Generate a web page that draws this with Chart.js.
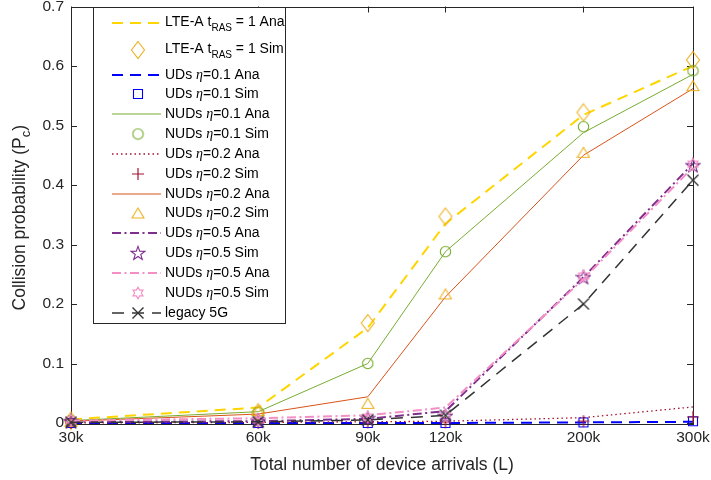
<!DOCTYPE html>
<html><head><meta charset="utf-8">
<script src="https://cdn.jsdelivr.net/npm/chart.js@4"></script>
<style>html,body{margin:0;padding:0;background:#fff}canvas{display:block}</style>
</head><body>
<canvas id="c" width="711" height="480"></canvas>
<script>
// ---------- data ----------
const xValues = [30000, 60000, 90000, 120000, 200000, 300000];
const xTickLabels = ['30k', '60k', '90k', '120k', '200k', '300k'];
const yTicks = [0, 0.1, 0.2, 0.3, 0.4, 0.5, 0.6, 0.7];
const yTickLabels = ['0', '0.1', '0.2', '0.3', '0.4', '0.5', '0.6', '0.7'];

const lteAna    = [0.006, 0.026, 0.160, 0.335, 0.518, 0.600];
const lteSim    = [0.004, 0.018, 0.168, 0.347, 0.522, 0.610];
const ud01Ana   = [0.000, 0.000, 0.000, 0.000, 0.001, 0.002];
const ud01Sim   = [0.000, 0.000, 0.000, 0.000, 0.001, 0.003];
const nud01Ana  = [0.004, 0.019, 0.100, 0.288, 0.488, 0.586];
const nud01Sim  = [0.004, 0.018, 0.100, 0.288, 0.498, 0.592];
const ud02Ana   = [0.000, 0.001, 0.002, 0.003, 0.009, 0.027];
const ud02Sim   = [0.000, 0.000, 0.001, 0.001, 0.003, 0.010];
const nud02Ana  = [0.003, 0.015, 0.044, 0.212, 0.450, 0.562];
const nud02Sim  = [0.003, 0.021, 0.033, 0.217, 0.455, 0.567];
const ud05Ana   = [0.002, 0.003, 0.007, 0.020, 0.245, 0.436];
const ud05Sim   = [0.003, 0.004, 0.008, 0.012, 0.245, 0.433];
const nud05Ana  = [0.004, 0.008, 0.013, 0.026, 0.242, 0.430];
const nud05Sim  = [0.005, 0.005, 0.010, 0.013, 0.247, 0.435];
const legacy5G  = [0.001, 0.002, 0.005, 0.013, 0.200, 0.408];

const seriesNames = [
  [{t:'LTE-A t'},{t:'RAS',sub:true},{t:' = 1 Ana'}],
  [{t:'LTE-A t'},{t:'RAS',sub:true},{t:' = 1 Sim'}],
  [{t:'UDs '},{t:'η',it:true},{t:'=0.1 Ana'}],
  [{t:'UDs '},{t:'η',it:true},{t:'=0.1 Sim'}],
  [{t:'NUDs '},{t:'η',it:true},{t:'=0.1 Ana'}],
  [{t:'NUDs '},{t:'η',it:true},{t:'=0.1 Sim'}],
  [{t:'UDs '},{t:'η',it:true},{t:'=0.2 Ana'}],
  [{t:'UDs '},{t:'η',it:true},{t:'=0.2 Sim'}],
  [{t:'NUDs '},{t:'η',it:true},{t:'=0.2 Ana'}],
  [{t:'NUDs '},{t:'η',it:true},{t:'=0.2 Sim'}],
  [{t:'UDs '},{t:'η',it:true},{t:'=0.5 Ana'}],
  [{t:'UDs '},{t:'η',it:true},{t:'=0.5 Sim'}],
  [{t:'NUDs '},{t:'η',it:true},{t:'=0.5 Ana'}],
  [{t:'NUDs '},{t:'η',it:true},{t:'=0.5 Sim'}],
  [{t:'legacy 5G'}]
];

// ---------- marker glyphs ----------
function mk(w, h, color, lw, draw) {
  const c = document.createElement('canvas');
  c.width = w; c.height = h;
  const g = c.getContext('2d');
  g.strokeStyle = color; g.lineWidth = lw; g.lineJoin = 'miter';
  g.beginPath(); draw(g, w, h); g.stroke();
  return c;
}
function starPath(g, cx, cy, n, ro, ri) {
  for (let k = 0; k < 2 * n; k++) {
    const r = k % 2 === 0 ? ro : ri;
    const a = -Math.PI / 2 + k * Math.PI / n;
    const px = cx + r * Math.cos(a), py = cy + r * Math.sin(a);
    k === 0 ? g.moveTo(px, py) : g.lineTo(px, py);
  }
  g.closePath();
}
const M = {
  diamond: mk(16, 20, '#EDB120', 1.1, g => { g.moveTo(8, 1.5); g.lineTo(14.5, 10); g.lineTo(8, 18.5); g.lineTo(1.5, 10); g.closePath(); }),
  square: mk(12, 12, '#0000FF', 1.1, g => { g.rect(1.5, 1.5, 9, 9); }),
  circle: mk(13, 13, '#77AC30', 1.1, g => { g.arc(6.5, 6.5, 5.2, 0, Math.PI * 2); }),
  plus: mk(14, 14, '#A2142F', 1.2, g => { g.moveTo(7, 1); g.lineTo(7, 13); g.moveTo(1, 7); g.lineTo(13, 7); }),
  triangle: mk(14, 13, '#EDB120', 1.1, g => { g.moveTo(7, 1.5); g.lineTo(13, 11.5); g.lineTo(1, 11.5); g.closePath(); }),
  pentagram: mk(16, 16, '#7E2F8E', 1.1, g => { starPath(g, 8, 8.6, 5, 7.2, 2.9); }),
  hexagram: mk(14, 14, '#F48FC6', 1.1, g => { starPath(g, 7, 7, 6, 5.8, 3.35); }),
  cross: mk(14, 14, '#333333', 1.4, g => { g.moveTo(1.5, 1.5); g.lineTo(12.5, 12.5); g.moveTo(12.5, 1.5); g.lineTo(1.5, 12.5); })
};

// ---------- series styling ----------
const defs = [
  {d: lteAna,   line: true, color: '#FFD500', w: 2,   dash: [11, 7]},
  {d: lteSim,   marker: M.diamond},
  {d: ud01Ana,  line: true, color: '#0000FF', w: 2,   dash: [11, 7]},
  {d: ud01Sim,  marker: M.square},
  {d: nud01Ana, line: true, color: '#77AC30', w: 1,   dash: []},
  {d: nud01Sim, marker: M.circle},
  {d: ud02Ana,  line: true, color: '#A2142F', w: 1.3, dash: [1.5, 3]},
  {d: ud02Sim,  marker: M.plus},
  {d: nud02Ana, line: true, color: '#D95319', w: 1,   dash: []},
  {d: nud02Sim, marker: M.triangle},
  {d: ud05Ana,  line: true, color: '#7E2F8E', w: 2,   dash: [9, 3.5, 2, 3.5]},
  {d: ud05Sim,  marker: M.pentagram},
  {d: nud05Ana, line: true, color: '#F48FC6', w: 2,   dash: [9, 3.5, 2, 3.5]},
  {d: nud05Sim, marker: M.hexagram},
  {d: legacy5G, line: true, color: '#333333', w: 1.5, dash: [12, 8], marker: M.cross}
];

const datasets = defs.map((s, i) => ({
  label: 'series' + i,
  data: xValues.map((x, k) => ({x: x, y: s.d[k]})),
  showLine: !!s.line,
  borderColor: s.color || '#000',
  borderWidth: s.w || 1,
  borderDash: s.dash || [],
  backgroundColor: 'transparent',
  pointStyle: s.marker || 'circle',
  pointRadius: s.marker ? 5 : 0,
  pointHoverRadius: s.marker ? 5 : 0,
  tension: 0,
  fill: false,
  clip: false,
  order: 100 - i
}));

// ---------- plugins ----------
const TXT = '#262626';
const boxPlugin = {
  id: 'box',
  beforeDatasetsDraw(chart) {
    const {ctx, chartArea: a, scales} = chart;
    ctx.save();
    ctx.strokeStyle = TXT; ctx.lineWidth = 1;
    ctx.strokeRect(Math.round(a.left) + 0.5, Math.round(a.top) + 0.5, Math.round(a.right - a.left), Math.round(a.bottom - a.top));
    ctx.beginPath();
    const tl = 6;
    scales.x.ticks.forEach(t => {
      const px = Math.round(scales.x.getPixelForValue(t.value)) + 0.5;
      ctx.moveTo(px, a.bottom); ctx.lineTo(px, a.bottom - tl);
      ctx.moveTo(px, a.top); ctx.lineTo(px, a.top + tl);
    });
    scales.y.ticks.forEach(t => {
      const py = Math.round(scales.y.getPixelForValue(t.value)) + 0.5;
      ctx.moveTo(a.left, py); ctx.lineTo(a.left + tl, py);
      ctx.moveTo(a.right, py); ctx.lineTo(a.right - tl, py);
    });
    ctx.stroke();
    ctx.restore();
  }
};

function setFont(ctx, p, size) {
  if (p.sub) ctx.font = Math.round(size * 0.72) + 'px "Liberation Sans", Arial, sans-serif';
  else if (p.it) ctx.font = 'italic ' + size + 'px "Liberation Serif", "DejaVu Serif", serif';
  else ctx.font = size + 'px "Liberation Sans", Arial, sans-serif';
}
function drawParts(ctx, parts, x, y, size, subOff) {
  parts.forEach(p => {
    setFont(ctx, p, size);
    ctx.fillText(p.t, x, p.sub ? y + subOff : y);
    x += ctx.measureText(p.t).width;
  });
  return x;
}
function partsWidth(ctx, parts, size) {
  let w = 0;
  parts.forEach(p => { setFont(ctx, p, size); w += ctx.measureText(p.t).width; });
  return w;
}

const rowY = [23, 50, 75, 94, 114, 134, 154, 174, 194, 213, 233, 253, 273, 293, 313];
const legendPlugin = {
  id: 'mlegend',
  afterDraw(chart) {
    const ctx = chart.ctx;
    ctx.save();
    const bx = 93, by = 7, bw = 192, bh = 316;
    ctx.fillStyle = '#fff'; ctx.fillRect(bx, by, bw, bh);
    ctx.strokeStyle = TXT; ctx.lineWidth = 1;
    ctx.strokeRect(bx + 0.5, by + 0.5, bw, bh);
    defs.forEach((s, i) => {
      const y = rowY[i];
      if (s.line) {
        ctx.strokeStyle = s.color; ctx.lineWidth = s.w; ctx.setLineDash(s.dash);
        ctx.beginPath(); ctx.moveTo(112, y); ctx.lineTo(161, y); ctx.stroke();
        ctx.setLineDash([]);
      }
      if (s.marker) {
        ctx.drawImage(s.marker, 138 - s.marker.width / 2, y - s.marker.height / 2);
      }
      ctx.fillStyle = '#000'; ctx.textBaseline = 'middle'; ctx.textAlign = 'left';
      const ty = (i < 2) ? y - 1 : y;
      drawParts(ctx, seriesNames[i], 165, ty, 14, 6);
    });
    // axis titles
    ctx.fillStyle = TXT; ctx.textBaseline = 'middle'; ctx.textAlign = 'left';
    const a = chart.chartArea;
    const xt = [{t: 'Total number of device arrivals (L)'}];
    const xw = partsWidth(ctx, xt, 17.5);
    drawParts(ctx, xt, (a.left + a.right) / 2 - xw / 2, 465, 17.5, 6);
    const yt = [{t: 'Collision probability (P'}, {t: 'c', sub: true}, {t: ')'}];
    const yw = partsWidth(ctx, yt, 17.5);
    ctx.translate(20, (a.top + a.bottom) / 2 + 3);
    ctx.rotate(-Math.PI / 2);
    drawParts(ctx, yt, -yw / 2, 0, 17.5, 6);
    ctx.restore();
  }
};

function zeroPad(scale) { scale.paddingTop = 0; scale.paddingBottom = 0; scale.paddingLeft = 0; scale.paddingRight = 0; }

new Chart(document.getElementById('c'), {
  type: 'scatter',
  data: {datasets},
  plugins: [boxPlugin, legendPlugin],
  options: {
    responsive: false,
    devicePixelRatio: 1,
    animation: false,
    layout: {padding: {left: 0, top: 3, right: 18, bottom: 0}},
    plugins: {legend: {display: false}, tooltip: {enabled: false}},
    scales: {
      x: {
        type: 'logarithmic', min: 30000, max: 300000,
        grid: {display: false, drawTicks: false},
        border: {display: false},
        afterBuildTicks: s => { s.ticks = xValues.map(v => ({value: v})); },
        afterFit: s => { s.height = 57; zeroPad(s); },
        ticks: {
          autoSkip: false, maxRotation: 0, minRotation: 0, padding: 5,
          color: TXT, font: {family: '"Liberation Sans", Arial, sans-serif', size: 15.5},
          callback: (v, i) => xTickLabels[i]
        }
      },
      y: {
        type: 'linear', min: 0, max: 0.7,
        grid: {display: false, drawTicks: false},
        border: {display: false},
        afterBuildTicks: s => { s.ticks = yTicks.map(v => ({value: v})); },
        afterFit: s => { s.width = 71; zeroPad(s); },
        ticks: {
          autoSkip: false, padding: 7,
          color: TXT, font: {family: '"Liberation Sans", Arial, sans-serif', size: 15.5, lineHeight: 0.1},
          callback: (v, i) => yTickLabels[i]
        }
      }
    }
  }
});
</script>
</body></html>
